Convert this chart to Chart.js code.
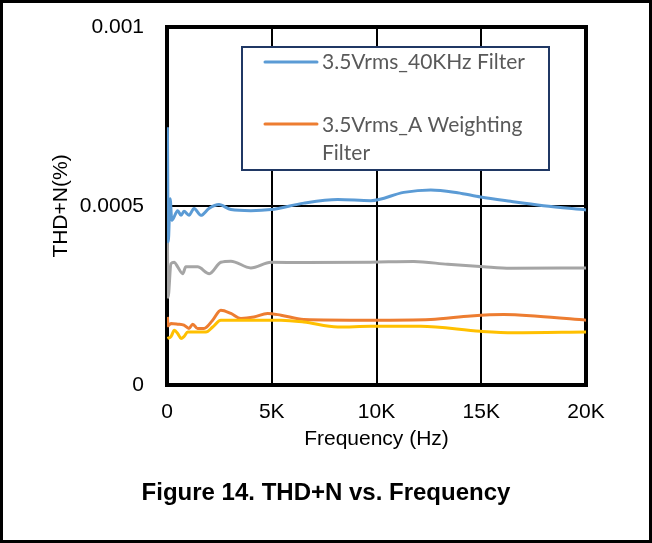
<!DOCTYPE html>
<html>
<head>
<meta charset="utf-8">
<script src="https://cdn.jsdelivr.net/npm/chart.js@4.4.1/dist/chart.umd.min.js"></script>
<style>
  html, body { margin: 0; padding: 0; background: #fff; }
  canvas { display: block; }
</style>
</head>
<body>
<canvas id="thd" width="652" height="543"></canvas>
<script>
// THD+N vs frecuencia, 4 curvas (solo 2 aparecen en la leyenda, como en la figura original)

const X_TICKS = ['0', '5K', '10K', '15K', '20K'];
const Y_TICKS = ['0', '0.0005', '0.001'];

const FREQ_BLUE = [20, 60, 150, 230, 510, 670, 810, 1050, 1290, 1620, 2000, 2480, 3050, 4000, 4960, 6530, 8150, 9730, 11300, 12590, 13870, 14970, 16400, 17970, 20000];
const THD_BLUE = [0.00072, 0.00040, 0.00052, 0.00046, 0.000487, 0.000474, 0.000485, 0.000474, 0.000493, 0.000474, 0.000493, 0.000504, 0.00049, 0.000487, 0.00049, 0.000508, 0.000518, 0.000515, 0.000538, 0.000545, 0.000537, 0.000525, 0.000513, 0.000501, 0.000489];

const FREQ_GRAY = [20, 50, 190, 350, 510, 750, 900, 1460, 2020, 2570, 3050, 4000, 4960, 6530, 9730, 11780, 13400, 15110, 16400, 20000];
const THD_GRAY = [0.00040, 0.000245, 0.000339, 0.000343, 0.00033, 0.000311, 0.00033, 0.00033, 0.000311, 0.000343, 0.000346, 0.000327, 0.000343, 0.000342, 0.000343, 0.000345, 0.000337, 0.00033, 0.000326, 0.000327];

const FREQ_ORANGE = [20, 50, 190, 510, 810, 1050, 1230, 1460, 1760, 2180, 2570, 3050, 3530, 4150, 4800, 5440, 6530, 9730, 12590, 14500, 16070, 17690, 20000];
const THD_ORANGE = [0.00019, 0.000165, 0.000172, 0.00017, 0.000167, 0.000158, 0.00017, 0.000158, 0.000158, 0.000181, 0.000209, 0.0002, 0.000186, 0.00019, 0.0002, 0.000195, 0.000183, 0.000181, 0.000183, 0.000193, 0.000197, 0.000192, 0.000181];

const FREQ_YELLOW = [20, 190, 350, 510, 670, 810, 990, 1290, 1860, 2180, 2570, 3370, 5440, 6530, 8150, 9730, 12110, 14970, 16550, 20000];
const THD_YELLOW = [0.00013, 0.000135, 0.000153, 0.000144, 0.00013, 0.000135, 0.000148, 0.000148, 0.000148, 0.000162, 0.000181, 0.000181, 0.000181, 0.000176, 0.000162, 0.000164, 0.000164, 0.00015, 0.000146, 0.000148];

const LEGEND_LABELS = ['3.5Vrms_40KHz Filter', '3.5Vrms_A Weighting', 'Filter'];
const CAPTION = 'Figure 14. THD+N vs. Frequency';

const COLOR_BLUE = '#5b9bd5';
const COLOR_ORANGE = '#ed7d31';
const COLOR_GRAY = '#a5a5a5';
const COLOR_YELLOW = '#ffc000';

const TICK_FONT = { family: "'Liberation Sans', Arial, sans-serif", size: 21 };

function pts(xs, ys) {
  return xs.map((x, i) => ({ x, y: ys[i] }));
}

function serie(label, xs, ys, color) {
  return {
    label,
    data: pts(xs, ys),
    borderColor: color,
    backgroundColor: color,
    borderWidth: 3,
    pointRadius: 0,
    fill: false,
    cubicInterpolationMode: 'monotone',
  };
}

// marco del área de trazado, leyenda en caja, pie de figura y borde exterior
const figurePlugin = {
  id: 'figura',
  beforeDraw(chart) {
    const { ctx, width, height } = chart;
    ctx.save();
    ctx.fillStyle = '#fff';
    ctx.fillRect(0, 0, width, height);
    ctx.restore();
  },
  beforeDatasetsDraw(chart) {
    const { ctx, chartArea: a } = chart;
    ctx.save();
    ctx.strokeStyle = '#000';
    ctx.lineWidth = 4;
    ctx.strokeRect(a.left, a.top, a.right - a.left, a.bottom - a.top);
    ctx.restore();
  },
  afterDraw(chart) {
    const { ctx, width, height } = chart;
    ctx.save();

    // leyenda
    ctx.fillStyle = '#fff';
    ctx.fillRect(242, 47, 307, 123);
    ctx.strokeStyle = '#203864';
    ctx.lineWidth = 2;
    ctx.strokeRect(242, 47, 307, 123);

    ctx.lineWidth = 3;
    ctx.lineCap = 'round';
    ctx.strokeStyle = COLOR_BLUE;
    ctx.beginPath(); ctx.moveTo(265, 62); ctx.lineTo(317, 62); ctx.stroke();
    ctx.strokeStyle = COLOR_ORANGE;
    ctx.beginPath(); ctx.moveTo(265, 124); ctx.lineTo(317, 124); ctx.stroke();

    ctx.fillStyle = '#595959';
    ctx.font = "21px Lato, 'Open Sans', sans-serif";
    ctx.textAlign = 'left';
    ctx.textBaseline = 'middle';
    ctx.fillText(LEGEND_LABELS[0], 322, 62);
    ctx.fillText(LEGEND_LABELS[1], 322, 125);
    ctx.fillText(LEGEND_LABELS[2], 322, 153);

    // pie de figura
    ctx.fillStyle = '#000';
    ctx.font = "bold 24px 'Liberation Sans', Arial, sans-serif";
    ctx.textAlign = 'center';
    ctx.fillText(CAPTION, 326, 493);

    // borde exterior
    ctx.strokeStyle = '#000';
    ctx.lineWidth = 3;
    ctx.strokeRect(1.5, 1.5, width - 3, height - 3);
    ctx.restore();
  },
};

new Chart(document.getElementById('thd'), {
  type: 'line',
  data: {
    datasets: [
      serie('3.5Vrms_40KHz Filter', FREQ_BLUE, THD_BLUE, COLOR_BLUE),
      serie('gris', FREQ_GRAY, THD_GRAY, COLOR_GRAY),
      serie('amarillo', FREQ_YELLOW, THD_YELLOW, COLOR_YELLOW),
      serie('3.5Vrms_A Weighting Filter', FREQ_ORANGE, THD_ORANGE, COLOR_ORANGE),
    ],
  },
  options: {
    responsive: false,
    animation: false,
    devicePixelRatio: 1,
    layout: { padding: { left: 0, right: 66, top: 27, bottom: 91 } },
    plugins: {
      legend: { display: false },
      tooltip: { enabled: false },
    },
    scales: {
      x: {
        type: 'linear',
        min: 0,
        max: 20000,
        ticks: {
          stepSize: 5000,
          color: '#000',
          font: TICK_FONT,
          padding: 15,
          maxRotation: 0,
          callback: (v, i) => X_TICKS[i],
        },
        grid: { color: '#000', lineWidth: 2, drawTicks: false },
        border: { display: false },
        title: {
          display: true,
          text: 'Frequency (Hz)',
          color: '#000',
          font: TICK_FONT,
          padding: 0,
        },
        afterFit: (s) => {
          s.height = 67;
          s.paddingLeft = 0;
          s.paddingRight = 0;
        },
      },
      y: {
        min: 0,
        max: 0.001,
        ticks: {
          stepSize: 0.0005,
          color: '#000',
          font: TICK_FONT,
          padding: 23,
          callback: (v, i) => Y_TICKS[i],
        },
        grid: { color: '#000', lineWidth: 2, drawTicks: false },
        border: { display: false },
        title: {
          display: true,
          text: 'THD+N(%)',
          color: '#000',
          font: TICK_FONT,
          padding: { top: 49, bottom: 0 },
        },
        afterFit: (s) => {
          s.width = 167;
          s.paddingTop = 0;
          s.paddingBottom = 0;
        },
      },
    },
  },
  plugins: [figurePlugin],
});
</script>
</body>
</html>
